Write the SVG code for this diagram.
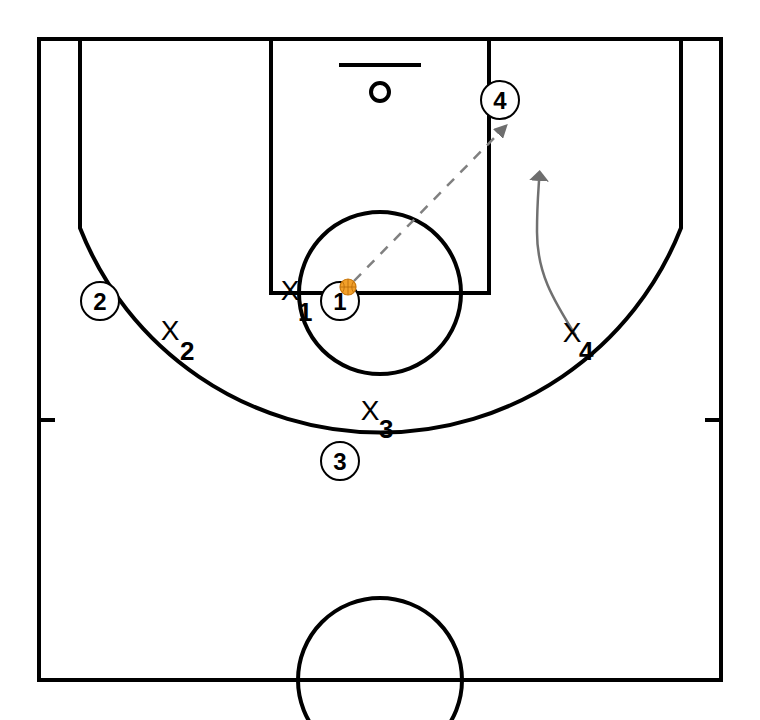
<svg xmlns="http://www.w3.org/2000/svg" width="760" height="720" viewBox="0 0 760 720">
<style>
.court{fill:none;stroke:#000;stroke-width:4}
.pl circle{fill:#fff;stroke:#000;stroke-width:2}
.pl text{font-family:"Liberation Sans",Arial,sans-serif;font-weight:bold;font-size:24px;text-anchor:middle;fill:#000}
.df .x{font-family:"Liberation Sans",Arial,sans-serif;font-size:28px;text-anchor:middle;fill:#000}
.df .n{font-family:"Liberation Sans",Arial,sans-serif;font-weight:bold;font-size:26px;fill:#000}
.pass{fill:none;stroke:#808080;stroke-width:2.5;stroke-dasharray:10 9}
.move{fill:none;stroke:#707070;stroke-width:2.5}
</style>
<defs>
<marker id="ahp" viewBox="0 0 10 10" refX="0" refY="5" markerWidth="14" markerHeight="14" markerUnits="userSpaceOnUse" orient="auto">
<path d="M0,0 L10,5 L0,10 z" fill="#6e6e6e"/>
</marker>
<marker id="ahm" viewBox="0 0 10 10" refX="0" refY="5" markerWidth="11" markerHeight="20" markerUnits="userSpaceOnUse" orient="auto" preserveAspectRatio="none">
<path d="M0,0 L10,5 L0,10 z" fill="#6e6e6e"/>
</marker>
</defs>
<rect width="760" height="720" fill="#fff"/>
<g id="court">
<rect class="court" x="39" y="39" width="682" height="641"/>
<rect class="court" x="271" y="39" width="218" height="254"/>
<circle class="court" cx="380" cy="293" r="81"/>
<path class="court" d="M80,39 L80,228 A323,323 0 0 0 681,228 L681,39"/>
<line class="court" x1="339" y1="65" x2="421" y2="65" stroke-width="2"/>
<circle class="court" cx="380" cy="92" r="9" stroke-width="3.5"/>
<line class="court" x1="39" y1="420" x2="55" y2="420"/>
<line class="court" x1="705" y1="420" x2="721" y2="420"/>
<circle class="court" cx="380" cy="680" r="82"/>
</g>
<g id="connectors">
<line class="pass" x1="354" y1="281" x2="498" y2="134" marker-end="url(#ahp)"/>
<path class="move" d="M576,336 C552,298 537,272 537,232 C537,208 538,196 539,181" marker-end="url(#ahm)"/>
</g>
<g id="p1" class="pl"><circle cx="340" cy="301" r="19"/><text x="340" y="310">1</text></g>
<g id="p2" class="pl"><circle cx="100" cy="301" r="19"/><text x="100" y="310">2</text></g>
<g id="p3" class="pl"><circle cx="340" cy="461" r="19"/><text x="340" y="470">3</text></g>
<g id="p4" class="pl"><circle cx="500" cy="100" r="19"/><text x="500" y="109">4</text></g>
<g id="ball">
<circle cx="348" cy="287" r="8" fill="#f2a02a" stroke="#c9780e" stroke-width="1.2"/>
<path d="M340,287 H356 M348,279 V295 M342.5,281.5 Q346,287 342.5,292.5 M353.5,281.5 Q350,287 353.5,292.5" fill="none" stroke="#b86a08" stroke-width="0.8"/>
</g>
<g id="x1" class="df"><text class="x" x="290" y="300">X</text><text class="n" x="298" y="321">1</text></g>
<g id="x2" class="df"><text class="x" x="170" y="340">X</text><text class="n" x="180" y="360">2</text></g>
<g id="x3" class="df"><text class="x" x="370" y="420">X</text><text class="n" x="379" y="438">3</text></g>
<g id="x4" class="df"><text class="x" x="572" y="342">X</text><text class="n" x="579" y="360">4</text></g>
</svg>
